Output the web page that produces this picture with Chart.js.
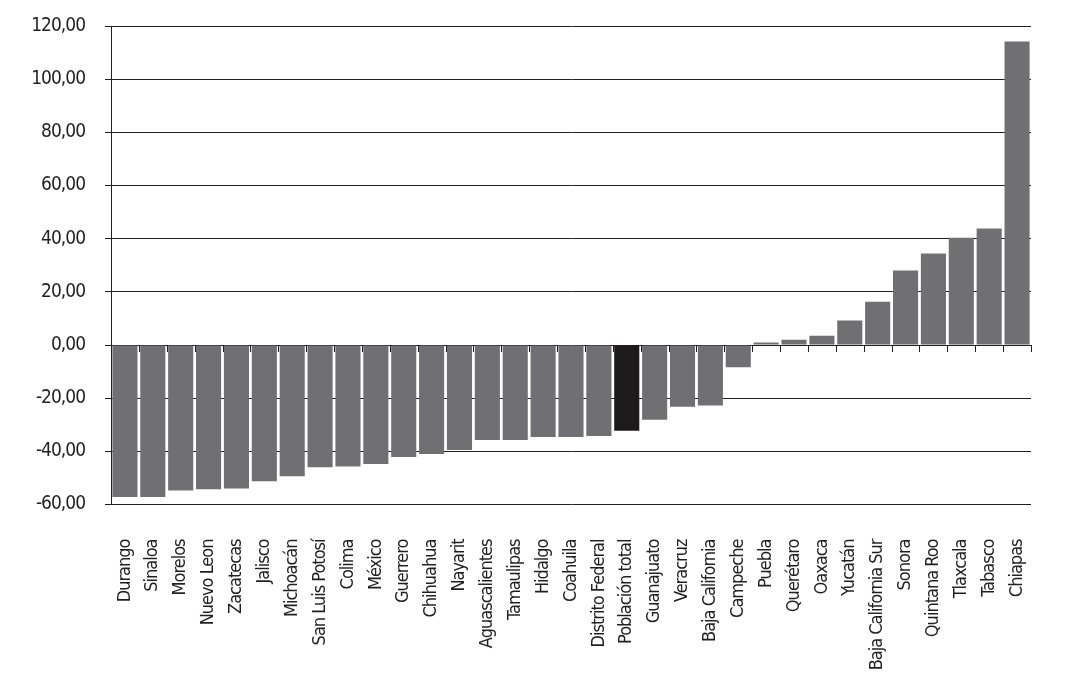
<!DOCTYPE html>
<html>
<head>
<meta charset="utf-8">
<script src="https://cdn.jsdelivr.net/npm/chart.js@4.4.1/dist/chart.umd.min.js"></script>
<style>
  html, body { margin: 0; padding: 0; background: #fff; }
  #wrap { width: 1066px; height: 684px; position: relative; }
</style>
</head>
<body>
<div id="wrap"><canvas id="chart"></canvas></div>
<script>
const categories = ['Durango', 'Sinaloa', 'Morelos', 'Nuevo Leon', 'Zacatecas', 'Jalisco', 'Michoacán',
    'San Luis Potosí', 'Colima', 'México', 'Guerrero', 'Chihuahua', 'Nayarit', 'Aguascalientes',
    'Tamaulipas', 'Hidalgo', 'Coahuila', 'Distrito Federal', 'Población total', 'Guanajuato',
    'Veracruz', 'Baja California', 'Campeche', 'Puebla', 'Querétaro', 'Oaxaca', 'Yucatán',
    'Baja California Sur', 'Sonora', 'Quintana Roo', 'Tlaxcala', 'Tabasco', 'Chiapas'];

const values = [-57.2, -57.2, -54.7, -54.3, -54.0, -51.3, -49.4, -46.0, -45.7, -44.8, -42.1, -41.0,
    -39.5, -35.7, -35.7, -34.6, -34.6, -34.2, -32.3, -28.1, -23.2, -22.8, -8.4, 0.9, 2.0, 3.5, 9.2,
    16.3, 28.0, 34.4, 40.3, 43.8, 114.2];

const highlight = 'Población total';
const yMin = -60, yMax = 120, yStep = 20;

const ink = '#231f20';
const barColors = categories.map(c => c === highlight ? '#1c1a1b' : '#707072');
const fontFamily = '"DejaVu Sans Condensed", "Liberation Sans", sans-serif';

// the reference uses a very narrow face, squeeze the condensed one a bit
const tightText = {
    id: 'tightText',
    beforeUpdate(chart) { chart.ctx.letterSpacing = '-1px'; },
    beforeDraw(chart) { chart.ctx.letterSpacing = '-1px'; }
};

// small ticks on the zero line between categories
const zeroTicks = {
    id: 'zeroTicks',
    afterDatasetsDraw(chart) {
        const x = chart.scales.x, y = chart.scales.y;
        const ctx = chart.ctx;
        const y0 = y.getPixelForValue(0);
        const half = (x.getPixelForValue(1) - x.getPixelForValue(0)) / 2;
        ctx.save();
        ctx.strokeStyle = ink;
        ctx.lineWidth = 1;
        ctx.beginPath();
        categories.forEach((c, i) => {
            const px = Math.round(x.getPixelForValue(i) + half) + 0.5;
            ctx.moveTo(px, y0);
            ctx.lineTo(px, y0 + 7);
        });
        ctx.stroke();
        ctx.restore();
    }
};

new Chart(document.getElementById('chart'), {
    type: 'bar',
    data: {
        labels: categories,
        datasets: [{
            data: values,
            backgroundColor: barColors,
            borderWidth: 0,
            barPercentage: 0.9,
            categoryPercentage: 1.0
        }]
    },
    options: {
        responsive: true,
        maintainAspectRatio: false,
        animation: false,
        layout: { padding: { top: 26, right: 35, left: 0, bottom: 0 } },
        plugins: {
            legend: { display: false },
            tooltip: { enabled: false }
        },
        scales: {
            x: {
                grid: { display: false, drawTicks: false },
                border: { display: false },
                ticks: {
                    autoSkip: false,
                    maxRotation: 90,
                    minRotation: 90,
                    padding: 35,
                    color: ink,
                    font: { family: fontFamily, size: 18 }
                },
                afterFit(scale) {
                    scale.height = 179.5;
                    scale.paddingLeft = 0;
                    scale.paddingRight = 0;
                }
            },
            y: {
                min: yMin,
                max: yMax,
                grid: { color: ink, lineWidth: 1, tickLength: 6, tickColor: ink },
                border: { display: true, color: ink, width: 1 },
                ticks: {
                    stepSize: yStep,
                    padding: 20,
                    color: ink,
                    font: { family: fontFamily, size: 19 },
                    callback: v => v.toFixed(2).replace('.', ',')
                },
                afterFit(scale) {
                    scale.width = 111;
                    scale.paddingTop = 0;
                    scale.paddingBottom = 0;
                }
            }
        }
    },
    plugins: [tightText, zeroTicks]
});
</script>
</body>
</html>
